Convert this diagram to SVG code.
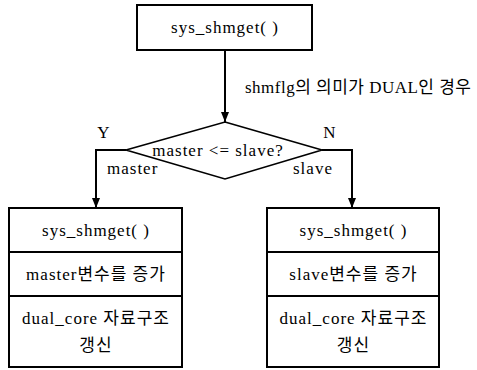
<svg xmlns="http://www.w3.org/2000/svg" width="477" height="370" viewBox="0 0 477 370">
<defs>
<style>
.box{fill:#fff;stroke:#000;stroke-width:2}
.dia{fill:#fff;stroke:#000;stroke-width:1.6}
.ln{fill:none;stroke:#000;stroke-width:2}
text{font-family:"Liberation Serif","Noto Sans CJK KR",serif;font-size:17px;letter-spacing:1px;fill:#000}
.c{text-anchor:middle}
</style>
<marker id="ah" viewBox="0 0 10 10" refX="10" refY="5" markerWidth="10" markerHeight="10" markerUnits="userSpaceOnUse" orient="auto">
<path d="M0,1 L10,5 L0,9 z" fill="#000"/>
</marker>
</defs>
<g id="connectors">
<line class="ln" x1="225" y1="50" x2="225" y2="122" marker-end="url(#ah)"/>
<polyline class="ln" points="126,150 96,150 96,208" marker-end="url(#ah)"/>
<polyline class="ln" points="322,150 352,150 352,208" marker-end="url(#ah)"/>
<text x="245" y="93" style="letter-spacing:0" textLength="226" lengthAdjust="spacing">shmflg의 의미가 DUAL인 경우</text>
<text x="104" y="138" class="c">Y</text>
<text x="330" y="138" class="c">N</text>
<text x="107" y="174">master</text>
<text x="293" y="174">slave</text>
</g>
<g id="start">
<rect class="box" x="137" y="5" width="175" height="45"/>
<text x="225" y="33" class="c">sys_shmget( )</text>
</g>
<g id="decision">
<polygon class="dia" points="225,122 322,150 225,179 126,150"/>
<text x="218" y="156" class="c">master &lt;= slave?</text>
</g>
<g id="master">
<rect class="box" x="9" y="208" width="173" height="159"/>
<line class="ln" x1="9" y1="252" x2="182" y2="252"/>
<line class="ln" x1="9" y1="296" x2="182" y2="296"/>
<text x="96" y="236" class="c">sys_shmget( )</text>
<text x="96" y="280" class="c">master변수를 증가</text>
<text x="96" y="324" class="c">dual_core 자료구조</text>
<text x="96" y="351" class="c">갱신</text>
</g>
<g id="slave">
<rect class="box" x="267" y="208" width="172" height="159"/>
<line class="ln" x1="267" y1="252" x2="439" y2="252"/>
<line class="ln" x1="267" y1="296" x2="439" y2="296"/>
<text x="353.5" y="236" class="c">sys_shmget( )</text>
<text x="353.5" y="280" class="c">slave변수를 증가</text>
<text x="353.5" y="324" class="c">dual_core 자료구조</text>
<text x="353.5" y="351" class="c">갱신</text>
</g>
</svg>
